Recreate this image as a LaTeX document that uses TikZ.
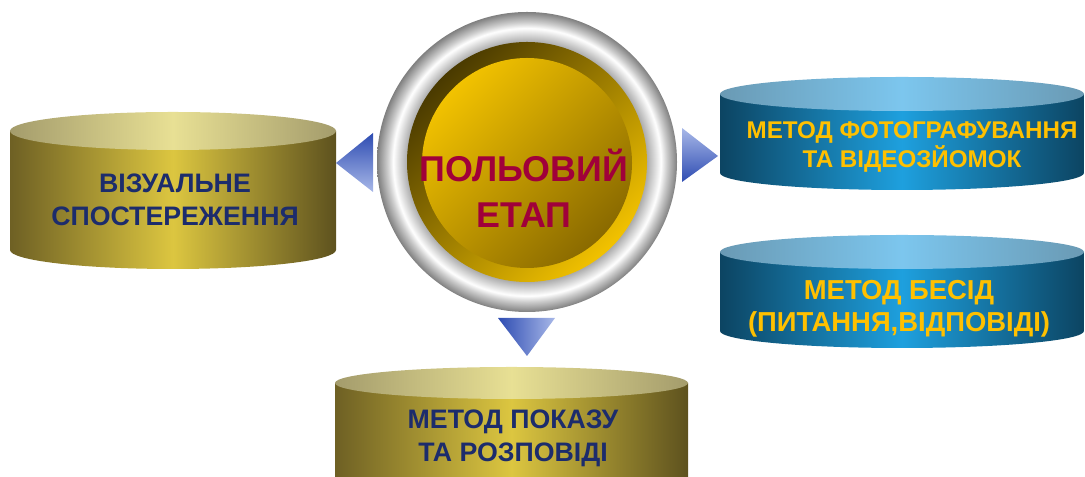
\documentclass[tikz,border=0pt]{standalone}
\usepackage{fontspec}
\setmainfont{Liberation Sans}
\usepackage{tikz}
\usetikzlibrary{positioning}

\definecolor{oliveedge}{HTML}{6E6024}
\definecolor{olivemid}{HTML}{DCC640}
\definecolor{olivetopedge}{HTML}{A49C6C}
\definecolor{olivetopmid}{HTML}{E8E094}
\definecolor{blueedge}{HTML}{0C4462}
\definecolor{bluemid}{HTML}{1EA0DE}
\definecolor{bluetopedge}{HTML}{6A9AB4}
\definecolor{bluetopmid}{HTML}{7CC6EE}
\definecolor{navytext}{HTML}{1C2C6C}
\definecolor{goldtext}{HTML}{FFC000}
\definecolor{crimsontext}{HTML}{A0003A}
\definecolor{golddark}{HTML}{4A3A00}
\definecolor{goldlight}{HTML}{F2C200}
\definecolor{golddeep}{HTML}{8A6A00}
\definecolor{arrowdark}{HTML}{2E4CB2}
\definecolor{arrowlight}{HTML}{A8B8E8}

\pgfdeclareradialshading{silverring}{\pgfpoint{0bp}{0bp}}{%
  color(0bp)=(gray!60); color(20bp)=(gray!65); color(22.3bp)=(white);
  color(23.3bp)=(gray!40); color(25bp)=(gray); color(50bp)=(gray)}

\tikzset{
  oliveside/.style={left color=oliveedge, right color=oliveedge!85!black, middle color=olivemid},
  olivetop/.style={left color=olivetopedge, right color=olivetopedge, middle color=olivetopmid},
  blueside/.style={left color=blueedge, right color=blueedge, middle color=bluemid},
  bluetop/.style={left color=bluetopedge, right color=bluetopedge, middle color=bluetopmid},
  navylabel/.style={align=center, text=navytext, font=\bfseries\fontsize{19}{23.4}\selectfont},
  goldlabel/.style={align=center, text=goldtext, font=\bfseries\fontsize{19.5}{22.7}\selectfont},
}

\begin{document}
\begin{tikzpicture}[x=0.025cm, y=0.025cm]
\useasboundingbox (0,0) rectangle (1085,477);

% left cylinder
\path[oliveside] (10,346) -- (10,227) arc[start angle=180, end angle=360, x radius=163, y radius=19] -- (336,346) -- cycle;
\path[olivetop] (173,346) ellipse[x radius=163, y radius=19];
\node[navylabel] (viz) at (175,277) {ВІЗУАЛЬНЕ\\СПОСТЕРЕЖЕННЯ};

% right cylinders
\path[blueside] (720,383) -- (720,304) arc[start angle=180, end angle=360, x radius=182, y radius=17] -- (1084,383) -- cycle;
\path[bluetop] (902,383) ellipse[x radius=182, y radius=17];
\node[goldlabel, font=\bfseries\fontsize{17.2}{20.6}\selectfont] (foto) at (912,330) {МЕТОД ФОТОГРАФУВАННЯ\\ТА ВІДЕОЗЙОМОК};

\path[blueside] (720,225) -- (720,146) arc[start angle=180, end angle=360, x radius=182, y radius=17] -- (1084,225) -- cycle;
\path[bluetop] (902,225) ellipse[x radius=182, y radius=17];
\node[goldlabel] (besid) at (899,168) {МЕТОД БЕСІД\\(ПИТАННЯ,ВІДПОВІДІ)};

% bottom cylinder
\path[oliveside] (335,94) -- (335,-20) arc[start angle=180, end angle=360, x radius=176.5, y radius=16] -- (688,94) -- cycle;
\path[olivetop] (511.5,94) ellipse[x radius=176.5, y radius=16];
\node[navylabel] (pokaz) at (513,39) {МЕТОД ПОКАЗУ\\ТА РОЗПОВІДІ};

% arrows
\path[top color=arrowdark, bottom color=arrowlight] (336,314) -- (373,344) -- (373,285) -- cycle;
\path[top color=arrowlight, bottom color=arrowdark] (682,349) -- (718,321) -- (682,295) -- cycle;
\path[left color=arrowdark, right color=arrowlight] (498,159) -- (555,159) -- (527,121) -- cycle;

% central button
\path[shading=silverring] (527,315) circle (150);
\path[top color=golddark, bottom color=goldlight, shading angle=45] (527,315) circle (120);
\path[top color=goldlight, bottom color=golddeep, shading angle=45] (527,314) circle (105);
\node[align=center, text=crimsontext, font=\bfseries\fontsize{25.5}{32.6}\selectfont] (etap) at (524,289) {ПОЛЬОВИЙ\\ЕТАП};

\end{tikzpicture}
\end{document}
